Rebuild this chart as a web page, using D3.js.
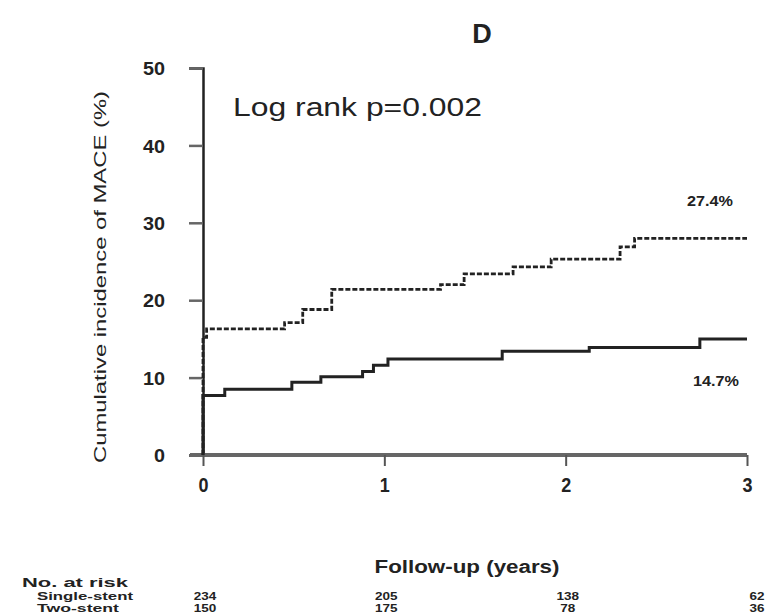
<!DOCTYPE html>
<html><head><meta charset="utf-8">
<script src="https://cdn.jsdelivr.net/npm/d3@7"></script>
<style>body{margin:0;background:#fff}svg{display:block}text{font-family:"Liberation Sans",Arial,sans-serif;fill:#222}</style>
</head><body><svg id="c" width="765" height="614"></svg>
<script>
const xTicks = [0, 1, 2, 3];
const yTicks = [0, 10, 20, 30, 40, 50];
// Two-stent (dotted) curve
const twoStentTime  = [0, 0, 0.02, 0.45, 0.55, 0.71, 1.31, 1.44, 1.71, 1.92, 2.30, 2.38, 3.0];
const twoStentValue = [0, 15.2, 16.3, 17.1, 18.8, 21.4, 22.0, 23.4, 24.3, 25.3, 26.9, 28.0, 28.0];
// Single-stent (solid) curve
const singleStentTime  = [0, 0, 0.12, 0.49, 0.65, 0.88, 0.94, 1.02, 1.65, 2.13, 2.74, 3.0];
const singleStentValue = [0, 7.7, 8.5, 9.4, 10.1, 10.8, 11.6, 12.4, 13.4, 13.9, 15.0, 15.0];
const endLabels = ["27.4%", "14.7%"];
const riskGroups = ["Single-stent", "Two-stent"];
const riskSingle = ["234", "205", "138", "62"];
const riskTwo = ["150", "175", "78", "36"];

const svg = d3.select("#c");
const x = d3.scaleLinear().domain([0, 3]).range([203, 747]);
const y = d3.scaleLinear().domain([0, 50]).range([455, 68]);

// title
svg.append("text").attr("x", 482).attr("y", 43).attr("text-anchor", "middle")
  .attr("font-size", 27).attr("font-weight", "bold").text("D");

// y axis
const ya = svg.append("g").attr("transform", "translate(203,0)")
  .call(d3.axisLeft(y).tickValues(yTicks).tickFormat(d3.format("d")).tickSize(14).tickPadding(24));
ya.attr("font-family", null).attr("font-size", null);
ya.select(".domain").attr("stroke", "#222").attr("stroke-width", 2.5);
ya.selectAll(".tick line").attr("stroke", "#666").attr("stroke-width", 2.5);
ya.selectAll(".tick text").attr("font-size", 19).attr("font-weight", "bold").attr("fill", "#222")
  .attr("dy", "0.35em")
  .attr("textLength", d => String(d).length * 11).attr("lengthAdjust", "spacingAndGlyphs");

// x axis
const xa = svg.append("g").attr("transform", "translate(0,455)")
  .call(d3.axisBottom(x).tickValues(xTicks).tickFormat(d3.format("d")).tickSize(11).tickPadding(12));
xa.attr("font-family", null).attr("font-size", null);
xa.select(".domain").attr("stroke", "#666").attr("stroke-width", 4).attr("d", "M190,0H747");
xa.selectAll(".tick line").attr("stroke", "#555").attr("stroke-width", 2);
xa.selectAll(".tick text").attr("font-size", 20).attr("font-weight", "bold").attr("fill", "#222")
  .attr("textLength", 10).attr("lengthAdjust", "spacingAndGlyphs");

// y title
svg.append("text").attr("transform", "translate(106,277) rotate(-90)").attr("text-anchor", "middle")
  .attr("font-size", 17).attr("textLength", 372).attr("lengthAdjust", "spacingAndGlyphs")
  .text("Cumulative incidence of MACE (%)");

// log rank
svg.append("text").attr("x", 233).attr("y", 116).attr("font-size", 25)
  .attr("textLength", 249).attr("lengthAdjust", "spacingAndGlyphs").text("Log rank p=0.002");

// curves
const line = d3.line().x(d => x(d[0])).y(d => y(d[1])).curve(d3.curveStepAfter);
const twoData = twoStentTime.map((t, i) => [t, twoStentValue[i]]);
const oneData = singleStentTime.map((t, i) => [t, singleStentValue[i]]);
svg.append("path").datum(twoData).attr("d", line).attr("fill", "none")
  .attr("stroke", "#222").attr("stroke-width", 2.8).attr("stroke-dasharray", "5,2");
svg.append("path").datum(oneData).attr("d", line).attr("fill", "none")
  .attr("stroke", "#222").attr("stroke-width", 3);

// end labels
svg.append("text").attr("x", 710).attr("y", 206).attr("text-anchor", "middle").attr("font-size", 15)
  .attr("font-weight", "bold").attr("textLength", 46).attr("lengthAdjust", "spacingAndGlyphs").text(endLabels[0]);
svg.append("text").attr("x", 716).attr("y", 386).attr("text-anchor", "middle").attr("font-size", 15)
  .attr("font-weight", "bold").attr("textLength", 46).attr("lengthAdjust", "spacingAndGlyphs").text(endLabels[1]);

// x title
svg.append("text").attr("x", 467).attr("y", 573).attr("text-anchor", "middle").attr("font-size", 18)
  .attr("font-weight", "bold").attr("textLength", 185).attr("lengthAdjust", "spacingAndGlyphs")
  .text("Follow-up (years)");

// risk table
svg.append("text").attr("x", 22).attr("y", 587).attr("font-size", 13).attr("font-weight", "bold")
  .attr("textLength", 106).attr("lengthAdjust", "spacingAndGlyphs").text("No. at risk");
svg.append("text").attr("x", 37).attr("y", 600).attr("font-size", 11).attr("font-weight", "bold")
  .attr("textLength", 96).attr("lengthAdjust", "spacingAndGlyphs").text(riskGroups[0]);
svg.append("text").attr("x", 37).attr("y", 612).attr("font-size", 11).attr("font-weight", "bold")
  .attr("textLength", 82).attr("lengthAdjust", "spacingAndGlyphs").text(riskGroups[1]);
[riskSingle, riskTwo].forEach((row, r) => {
  svg.selectAll(null).data(row).enter().append("text")
    .attr("x", (d, i) => x(xTicks[i]) + (i === 3 ? 10 : 2))
    .attr("y", 600 + r * 12).attr("text-anchor", "middle").attr("font-size", 11).attr("font-weight", "bold")
    .attr("textLength", d => d.length * 7.5).attr("lengthAdjust", "spacingAndGlyphs")
    .text(d => d);
});
</script></body></html>
